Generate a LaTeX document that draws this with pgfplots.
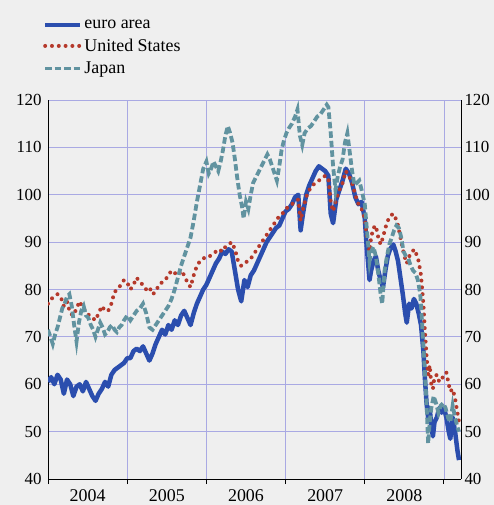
\documentclass[border=0pt]{standalone}
\usepackage{fontspec}
\setmainfont{Liberation Serif}
\usepackage{pgfplots}
\pgfplotsset{compat=1.18}

\definecolor{bg}{HTML}{EFEFEF}
\definecolor{gridc}{HTML}{A9A9E3}
\definecolor{euroblue}{HTML}{2B4EAE}
\definecolor{usred}{HTML}{B5392B}
\definecolor{jpteal}{HTML}{6193A0}

\begin{document}
\begin{tikzpicture}
% page background
\fill[bg] (-48bp,-26bp) rectangle (446bp,479bp);

\begin{axis}[
  at={(0,0)}, anchor=south west,
  scale only axis, width=413bp, height=379bp,
  xmin=2004, xmax=2009.215, ymin=40, ymax=120,
  axis x line*=bottom, axis y line*=left,
  axis line style={-, black, line width=1bp},
  xtick={2004,2005,2006,2007,2008,2009}, xticklabels={},
  extra x ticks={2004.5,2005.5,2006.5,2007.5,2008.5},
  extra x tick labels={2004,2005,2006,2007,2008},
  extra x tick style={major tick length=0pt, grid=none,
    tick label style={font=\fontsize{18}{20}\selectfont, yshift=-7bp}},
  xtick style={black, line width=1bp}, tick align=outside,
  major tick length=5bp,
  ytick={40,50,...,120}, ytick style={draw=none},
  yticklabel style={font=\fontsize{17}{19}\selectfont, xshift=2bp},
  /pgf/number format/assume math mode=true,
  grid=major, grid style={gridc, line width=0.8bp},
  legend style={at={(axis description cs:-0.02,1.222)}, anchor=north west,
    draw=none, fill=none, font=\fontsize{18}{20}\selectfont,
    row sep=5bp, /tikz/every even column/.append style={column sep=22bp}},
  legend cell align=left,
  legend image code/.code={\draw[#1] (0bp,0bp) -- (35bp,0bp);},
]
\addplot[euroblue, line width=4.5bp, line join=round] coordinates {
(2004.00,60.5) (2004.04,61.5) (2004.08,60) (2004.12,62) (2004.16,61) (2004.20,58)
(2004.24,61) (2004.28,60) (2004.32,57.5) (2004.36,59.5) (2004.40,60) (2004.44,58.5)
(2004.48,60.5) (2004.52,59) (2004.56,57.5) (2004.60,56.5) (2004.64,58) (2004.68,59)
(2004.72,60.5) (2004.76,59.5) (2004.80,62) (2004.84,63) (2004.88,63.5) (2004.92,64)
(2004.96,64.5) (2005.00,65.5)
(2005.04,65.5) (2005.08,67) (2005.12,67.5) (2005.16,67) (2005.20,68) (2005.24,66.5)
(2005.28,65) (2005.32,66.5) (2005.36,68.5) (2005.40,70) (2005.44,71.5) (2005.48,70.5)
(2005.52,72.5) (2005.56,71.5) (2005.60,73.5) (2005.64,72.5) (2005.68,74.5) (2005.72,75.5)
(2005.76,74) (2005.80,72.5) (2005.84,75) (2005.88,77) (2005.92,78.5) (2005.96,80)
(2006.00,81)
(2006.04,82.5) (2006.08,84) (2006.12,85.5) (2006.16,86.5) (2006.20,88) (2006.24,87.5)
(2006.28,88.5) (2006.32,88) (2006.36,84) (2006.40,80) (2006.44,77.5) (2006.48,82)
(2006.52,80.5) (2006.56,83) (2006.60,84) (2006.64,85.5) (2006.68,87) (2006.72,88.5)
(2006.76,90) (2006.80,91) (2006.84,92) (2006.88,93) (2006.92,93.5) (2006.96,95)
(2007.00,96.5)
(2007.04,97) (2007.08,98) (2007.12,99.5) (2007.16,100) (2007.19,92.5) (2007.22,96)
(2007.26,100) (2007.30,102) (2007.34,103.5) (2007.38,105) (2007.42,106) (2007.46,105.5)
(2007.50,105) (2007.54,104) (2007.57,96) (2007.60,94) (2007.64,99) (2007.68,101)
(2007.72,103) (2007.76,105.5) (2007.80,104.5) (2007.84,102.5) (2007.88,99.5) (2007.92,98)
(2007.96,98.5) (2008.00,95)
(2008.02,90) (2008.04,86) (2008.06,82) (2008.08,84) (2008.11,86) (2008.14,87)
(2008.17,84) (2008.20,82) (2008.23,80.5) (2008.26,84) (2008.29,87) (2008.32,88.5)
(2008.36,89.5) (2008.39,88) (2008.42,86) (2008.45,82.5) (2008.48,79) (2008.51,75)
(2008.53,73) (2008.56,77) (2008.59,76) (2008.62,78) (2008.65,77) (2008.68,75)
(2008.71,72.5) (2008.74,67) (2008.76,61) (2008.78,56) (2008.80,53) (2008.82,55)
(2008.84,51) (2008.86,49) (2008.88,52) (2008.91,53) (2008.94,55) (2008.97,54)
(2009.00,55) (2009.03,53) (2009.06,50) (2009.08,48.5) (2009.11,53) (2009.14,50)
(2009.17,46) (2009.19,44)
};
\addlegendentry{euro area}
\addplot[usred, line width=4bp, line cap=round, dash pattern=on 0bp off 6.8bp] coordinates {
(2004.00,77) (2004.04,78) (2004.08,78.5) (2004.12,79) (2004.16,78.5) (2004.20,76.5)
(2004.24,77.5) (2004.28,75) (2004.32,74.5) (2004.36,76) (2004.40,77.5) (2004.44,76)
(2004.48,75.5) (2004.52,74.5) (2004.56,74) (2004.60,73.5) (2004.64,75) (2004.68,76.5)
(2004.72,75.5) (2004.76,75.5) (2004.80,77) (2004.84,79.5) (2004.88,80) (2004.92,81)
(2004.96,82) (2005.00,81.5)
(2005.04,80) (2005.08,81) (2005.12,82.5) (2005.16,81.5) (2005.20,81) (2005.24,80)
(2005.28,80.5) (2005.32,79) (2005.36,79.5) (2005.40,81) (2005.44,81.5) (2005.48,82)
(2005.52,83) (2005.56,84) (2005.60,83.5) (2005.64,83) (2005.68,84) (2005.72,83)
(2005.76,81.5) (2005.80,80.5) (2005.84,83) (2005.88,85) (2005.92,86) (2005.96,86.5)
(2006.00,87)
(2006.04,87) (2006.08,87.5) (2006.12,88) (2006.16,88.5) (2006.20,88) (2006.24,89)
(2006.28,89.5) (2006.32,90) (2006.36,88.5) (2006.40,86) (2006.44,85) (2006.48,85.5)
(2006.52,86) (2006.56,86.5) (2006.60,87.5) (2006.64,88.5) (2006.68,89.5) (2006.72,90.5)
(2006.76,91.5) (2006.80,92.5) (2006.84,93.5) (2006.88,94.5) (2006.92,95.5) (2006.96,96)
(2007.00,97)
(2007.04,97.5) (2007.08,98) (2007.12,98.5) (2007.16,99) (2007.19,94.5) (2007.22,97)
(2007.26,99.5) (2007.30,101) (2007.34,102) (2007.38,102.5) (2007.42,103) (2007.46,103.5)
(2007.50,104) (2007.54,103.5) (2007.57,98.5) (2007.60,96.5) (2007.64,99) (2007.68,101)
(2007.72,102.5) (2007.76,105) (2007.80,104) (2007.84,102.5) (2007.88,100) (2007.92,98)
(2007.96,97) (2008.00,95)
(2008.02,92) (2008.04,90) (2008.06,88) (2008.08,91) (2008.11,93) (2008.14,93.5)
(2008.17,91) (2008.20,89.5) (2008.23,91) (2008.26,93) (2008.29,94.5) (2008.32,95.5)
(2008.36,96) (2008.39,95) (2008.42,93.5) (2008.45,91) (2008.48,88.5) (2008.51,86.5)
(2008.53,85.5) (2008.56,87) (2008.59,87.5) (2008.62,88.5) (2008.65,87.5) (2008.68,86)
(2008.71,83) (2008.74,77) (2008.76,71) (2008.78,66) (2008.80,62) (2008.82,64)
(2008.84,60) (2008.86,59) (2008.88,61.5) (2008.91,62) (2008.94,60.5) (2008.97,61)
(2009.00,62) (2009.03,62.5) (2009.06,60) (2009.08,58.5) (2009.11,59) (2009.14,57)
(2009.17,54) (2009.19,52)
};
\addlegendentry{United States}
\addplot[jpteal, line width=3.8bp, dash pattern=on 6.5bp off 3bp] coordinates {
(2004.00,71.5) (2004.03,70) (2004.06,68.5) (2004.09,70.5) (2004.12,72) (2004.15,74)
(2004.18,76) (2004.21,77) (2004.24,78.5) (2004.27,79) (2004.30,76.5) (2004.33,72.5)
(2004.36,69) (2004.39,73) (2004.42,75.5) (2004.45,76.5) (2004.48,74.5) (2004.51,74)
(2004.54,72.5) (2004.57,71.5) (2004.60,70) (2004.63,71.5) (2004.66,73) (2004.69,72)
(2004.72,70.5) (2004.75,71) (2004.78,72) (2004.81,72.5) (2004.84,71.5) (2004.87,71)
(2004.90,72) (2004.93,72.5) (2004.96,73.5) (2005.00,74.5)
(2005.04,73.5) (2005.08,74.5) (2005.12,75.5) (2005.16,76) (2005.20,77) (2005.24,75)
(2005.28,72) (2005.32,71.5) (2005.36,72.5) (2005.40,73.5) (2005.44,74.5) (2005.48,75.5)
(2005.52,76.5) (2005.56,78) (2005.60,80) (2005.64,82.5) (2005.68,85) (2005.72,87)
(2005.76,89) (2005.80,91) (2005.84,94.5) (2005.88,98.5) (2005.92,102) (2005.96,105.5)
(2006.00,107)
(2006.03,104.5) (2006.06,105.5) (2006.09,107) (2006.12,106) (2006.15,105) (2006.18,107)
(2006.21,109.5) (2006.24,112.5) (2006.27,114.5) (2006.30,113) (2006.33,111) (2006.36,107.5)
(2006.39,103.5) (2006.42,100) (2006.45,97.5) (2006.47,95) (2006.50,98.5) (2006.53,97)
(2006.56,100) (2006.59,102.5) (2006.62,103.5) (2006.65,104.5) (2006.68,105.5) (2006.71,106.5)
(2006.74,107.5) (2006.77,108.5) (2006.80,107.5) (2006.83,106) (2006.86,104.5) (2006.89,103)
(2006.92,106) (2006.95,109.5) (2006.98,111.5) (2007.01,113)
(2007.04,114) (2007.08,115) (2007.12,116.5) (2007.15,118) (2007.18,112.5) (2007.21,110.5)
(2007.24,113) (2007.28,114) (2007.32,114.5) (2007.36,115.5) (2007.40,116.5) (2007.44,117)
(2007.48,118) (2007.52,119) (2007.54,118.5) (2007.57,113) (2007.60,106) (2007.63,101)
(2007.66,104) (2007.69,106) (2007.72,107.5) (2007.75,111) (2007.78,113) (2007.81,109)
(2007.84,105) (2007.87,102) (2007.90,102.5) (2007.93,103) (2007.96,101) (2008.00,98)
(2008.02,94) (2008.04,90) (2008.06,86) (2008.08,88) (2008.11,89) (2008.14,87)
(2008.17,83.5) (2008.20,79) (2008.22,77) (2008.25,84) (2008.28,87) (2008.31,89.5)
(2008.34,91) (2008.37,92.5) (2008.40,93.5) (2008.43,93) (2008.46,91) (2008.49,88)
(2008.52,87) (2008.55,86.5) (2008.58,85) (2008.61,84) (2008.64,83.5) (2008.67,82)
(2008.70,79) (2008.72,74) (2008.74,68) (2008.76,62) (2008.78,56) (2008.80,47.5)
(2008.82,52) (2008.84,55) (2008.87,57.5) (2008.90,56) (2008.93,54) (2008.96,55.5)
(2008.99,56) (2009.02,55) (2009.05,53) (2009.08,52) (2009.11,55.5) (2009.14,53)
(2009.17,51) (2009.19,50)
};
\addlegendentry{Japan}
\end{axis}

% right-hand scale
\begin{axis}[
  at={(0,0)}, anchor=south west,
  scale only axis, width=413bp, height=379bp,
  xmin=2004, xmax=2009.215, ymin=40, ymax=120,
  hide x axis, axis y line*=right,
  axis line style={-, black, line width=1bp},
  ytick={40,50,...,120}, ytick style={draw=none},
  yticklabel style={font=\fontsize{17}{19}\selectfont},
  /pgf/number format/assume math mode=true,
]
\addplot[draw=none] coordinates {(2004,40)};
\end{axis}
\end{tikzpicture}
\end{document}
